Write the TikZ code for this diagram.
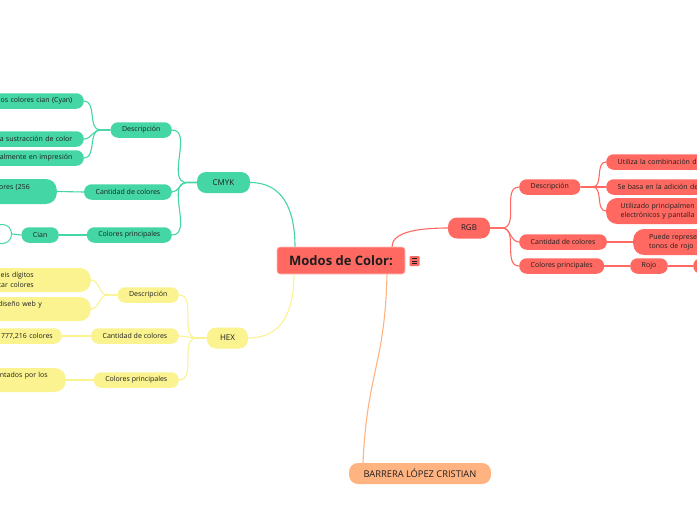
\documentclass[tikz,border=0pt]{standalone}
\usepackage{fontspec}
\setmainfont{Open Sans}
\usetikzlibrary{calc}
\definecolor{rgbred}{RGB}{255,105,97}
\definecolor{cmykgreen}{RGB}{69,214,165}
\definecolor{hexyellow}{RGB}{250,243,144}
\definecolor{nameorange}{RGB}{255,179,128}
\definecolor{ink}{RGB}{30,30,30}

\tikzset{
  central/.style={fill=rgbred, draw=rgbred!40!white, line width=0.6pt, rounded corners=3pt,
    text=ink, font=\fontsize{13}{15}\selectfont\bfseries, minimum width=128pt, minimum height=27pt},
  topic/.style={rounded corners=9pt, text=ink, font=\fontsize{8}{10}\selectfont,
    inner xsep=13pt, inner ysep=0pt, minimum height=21pt},
  sub/.style={rounded corners=7.5pt, text=ink, font=\fontsize{7}{9.5}\selectfont,
    inner xsep=11.5pt, inner ysep=0pt, minimum height=15.5pt},
  cutleft/.style={sub, anchor=east, text width=150pt, align=right},
  cutright/.style={sub, anchor=west, text width=150pt, align=left},
  link/.style={line width=1.1pt},
}

\begin{document}
\begin{tikzpicture}[x=1pt, y=-1pt]
\useasboundingbox (0,0) rectangle (697,520);
\fill[white] (0,0) rectangle (697,520);
\clip (0,0) rectangle (697,520);

% centre
\node[central] (cen) at (341,260.5) {Modos de Color:};
\node[fill=rgbred, rounded corners=1pt, minimum size=10pt, inner sep=0pt] (note) at (414.5,261) {};
\foreach \dy in {-2.5,0,2.5}
  \draw[ink, line width=0.7pt] ([xshift=-2.5pt,yshift=\dy pt]note.center) -- ++(5,0);

% main branches
\node[topic, fill=cmykgreen, minimum width=53pt] (cmyk) at (223.5,182.5) {CMYK};
\node[topic, fill=hexyellow] (hex) at (227.5,338) {HEX};
\node[topic, fill=rgbred] (rgb) at (469,228) {RGB};
\node[topic, fill=nameorange, minimum width=142pt, font=\fontsize{9.3}{11}\selectfont] (autor) at (420,473.5) {BARRERA LÓPEZ CRISTIAN};

\draw[link, cmykgreen] (cmyk.east) .. controls +(32,0) and +(0,-38) .. ([xshift=-46pt]cen.north);
\draw[link, hexyellow] ([xshift=-47pt]cen.south) .. controls +(0,40) and +(32,0) .. (hex.east);
\draw[link, rgbred] ([xshift=51pt]cen.north) .. controls +(0,-14) and +(-32,0) .. (rgb.west);
\draw[link, nameorange] ([xshift=46pt]cen.south) .. controls +(-2,90) and +(4,-90) .. ([xshift=-57pt]autor.north);

% CMYK
\node[sub, fill=cmykgreen, anchor=east] (cmykdesc) at (172,130) {Descripción};
\node[sub, fill=cmykgreen, anchor=east] (cmykcant) at (172,192) {Cantidad de colores};
\node[sub, fill=cmykgreen, anchor=east] (cmykprin) at (172,235) {Colores principales};
\node[cutleft, fill=cmykgreen] (cyan) at (84,101) {los colores cian (Cyan)};
\node[cutleft, fill=cmykgreen] (resta) at (84,139) {a sustracción de color};
\node[cutleft, fill=cmykgreen] (impresion) at (84,158) {almente en impresión};
\node[cutleft, fill=cmykgreen, inner xsep=27pt, minimum height=25pt, rounded corners=11pt] (cmykgama) at (57,191.5) {ores (256\\ \mbox{}};
\node[sub, fill=cmykgreen, anchor=east] (cian) at (59,235) {Cian};
\node[sub, fill=white, draw=cmykgreen, line width=1pt, anchor=east, minimum width=40pt,
  minimum height=19pt, rounded corners=9pt] (cianimg) at (12,234) {};

\foreach \kid in {cmykdesc,cmykcant,cmykprin}
  \draw[link, cmykgreen] (cmyk.west) -- ++(-10,0) to[out=180,in=0] (\kid.east);
\foreach \kid in {cyan,resta,impresion}
  \draw[link, cmykgreen] (cmykdesc.west) -- ++(-10,0) to[out=180,in=0] (\kid.east);
\draw[link, cmykgreen] (cmykcant.west) -- (cmykgama.east);
\draw[link, cmykgreen] (cmykprin.west) -- (cian.east);
\draw[link, cmykgreen] (cian.west) -- (cianimg.east);

% HEX
\node[sub, fill=hexyellow, anchor=east] (hexdesc) at (179,295) {Descripción};
\node[sub, fill=hexyellow, anchor=east] (hexcant) at (179,336) {Cantidad de colores};
\node[sub, fill=hexyellow, anchor=east] (hexprin) at (179,380) {Colores principales};
\node[cutleft, fill=hexyellow, inner xsep=57pt, minimum height=24pt, rounded corners=11pt] (digitos) at (91,280) {eis dígitos\\tar colores};
\node[cutleft, fill=hexyellow, inner xsep=49pt, minimum height=24pt, rounded corners=11pt] (web) at (91,309) {diseño web y\\ \mbox{}};
\node[cutleft, fill=hexyellow, inner xsep=9pt] (millones) at (62,336) {777,216 colores};
\node[cutleft, fill=hexyellow, inner xsep=18pt, minimum height=24pt, rounded corners=11pt] (pares) at (66,380) {entados por los\\ \mbox{}};

\foreach \kid in {hexdesc,hexcant,hexprin}
  \draw[link, hexyellow] (hex.west) -- ++(-10,0) to[out=180,in=0] (\kid.east);
\foreach \kid in {digitos,web}
  \draw[link, hexyellow] (hexdesc.west) -- ++(-10,0) to[out=180,in=0] (\kid.east);
\draw[link, hexyellow] (hexcant.west) -- (millones.east);
\draw[link, hexyellow] (hexprin.west) -- (pares.east);

% RGB
\node[sub, fill=rgbred, anchor=west] (rgbdesc) at (519,187) {Descripción};
\node[sub, fill=rgbred, anchor=west] (rgbcant) at (519,242) {Cantidad de colores};
\node[sub, fill=rgbred, anchor=west] (rgbprin) at (519,266) {Colores principales};
\node[cutright, fill=rgbred] (combina) at (606,162) {Utiliza la combinación d};
\node[cutright, fill=rgbred] (adicion) at (606,187) {Se basa en la adición de};
\node[cutright, fill=rgbred, inner xsep=14.5pt, minimum height=26pt, rounded corners=11pt] (pantalla) at (606,211) {Utilizado principalmen\\electrónicos y pantalla};
\node[cutright, fill=rgbred, inner xsep=16pt, minimum height=26pt, rounded corners=11pt] (tonos) at (633,242) {Puede represe\\tonos de rojo};
\node[sub, fill=rgbred, anchor=west] (rojo) at (630,266) {Rojo};
\node[sub, fill=rgbred, anchor=west, minimum width=30pt] (rojosig) at (693,266) {};

\foreach \kid in {rgbdesc,rgbcant,rgbprin}
  \draw[link, rgbred] (rgb.east) -- ++(12,0) to[out=0,in=180] (\kid.west);
\foreach \kid in {combina,adicion,pantalla}
  \draw[link, rgbred] (rgbdesc.east) -- ++(12,0) to[out=0,in=180] (\kid.west);
\draw[link, rgbred] (rgbcant.east) -- (tonos.west);
\draw[link, rgbred] (rgbprin.east) -- (rojo.west);
\draw[link, rgbred] (rojo.east) -- (rojosig.west);
\end{tikzpicture}
\end{document}
